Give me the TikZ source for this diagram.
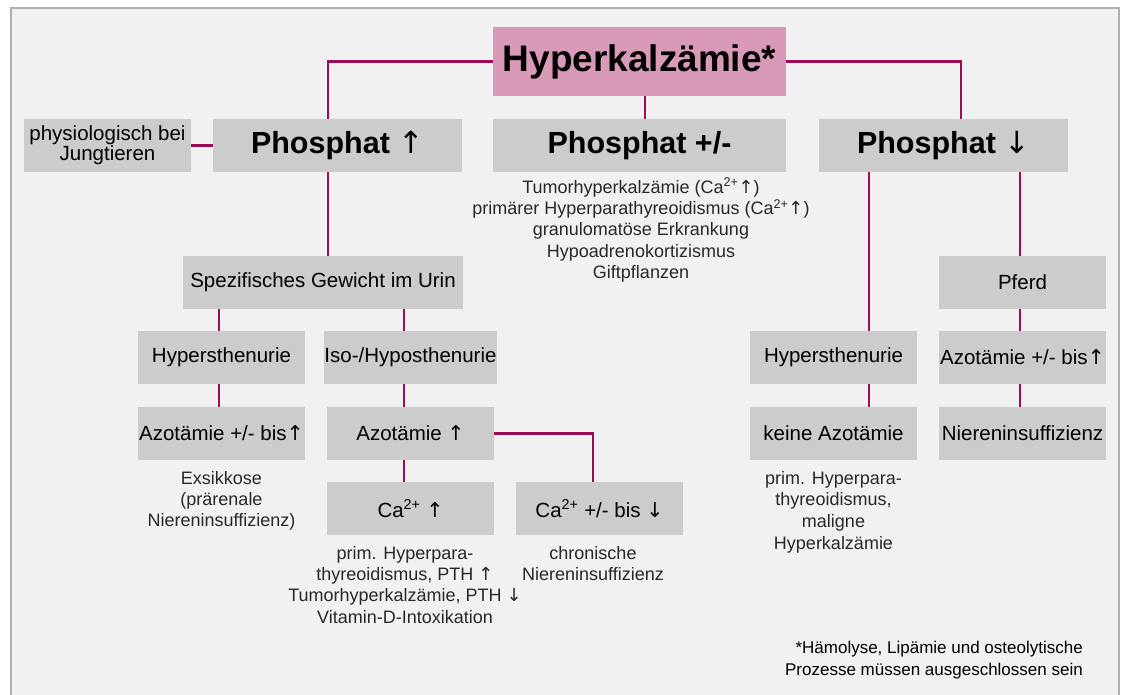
\documentclass[tikz,border=0pt]{standalone}
\usepackage{fontspec}
\setmainfont{Liberation Sans}
\newfontfamily\arrowfont{DejaVu Sans}
\usetikzlibrary{backgrounds}
\pgfdeclarelayer{bottom}
\pgfsetlayers{bottom,background,main}
\definecolor{lnk}{RGB}{158,12,86}
\definecolor{boxg}{RGB}{204,204,204}
\definecolor{pinkb}{RGB}{217,153,185}
\definecolor{bgc}{RGB}{241,241,241}
\definecolor{frm}{RGB}{176,176,176}
\definecolor{notec}{RGB}{40,40,40}
\newcommand{\upar}{{\arrowfont\mdseries ↑}}
\newcommand{\dnar}{{\arrowfont\mdseries ↓}}
\tikzset{
  gbox/.style={fill=boxg, draw=none, inner sep=0pt, align=center, font=\fontsize{20.5}{23}\selectfont},
  hbox/.style={gbox, font=\bfseries\fontsize{30.5}{33}\selectfont},
  note/.style={inner sep=0pt, align=center, text=notec, font=\fontsize{18}{21.3}\selectfont},
  link/.style={draw=lnk, line width=2.6pt}
}
\begin{document}
\begin{tikzpicture}[x=1pt,y=-1pt]
\useasboundingbox (0,0) rectangle (1125,695);
\begin{pgfonlayer}{bottom}
\fill[white] (0,0) rectangle (1125,695);
\draw[frm, line width=2.5pt, fill=bgc] (11,720) -- (11,8) -- (1119,8) -- (1119,720);
\end{pgfonlayer}
% boxes
\node[gbox, fill=pinkb, font=\bfseries\fontsize{37}{40}\selectfont, minimum width=293, minimum height=69] (hyp) at (639.5,61.5) {Hyperkalzämie*};
\node[gbox, minimum width=167, minimum height=53] (phys) at (107.5,145.5) {physiologisch bei\\[-3pt]Jungtieren};
\node[hbox, minimum width=249, minimum height=53] (pup) at (337.5,145.5) {Phosphat \upar};
\node[hbox, minimum width=293, minimum height=53] (ppm) at (639.5,145.5) {Phosphat +/-};
\node[hbox, minimum width=249, minimum height=53] (pdown) at (943.5,145.5) {Phosphat \dnar};
\node[gbox, minimum width=280, minimum height=53] (spez) at (323,282.5) {Spezifisches Gewicht im Urin};
\node[gbox, minimum width=167, minimum height=53] (hyL) at (221.5,357.5) {Hypersthenurie};
\node[gbox, minimum width=167, minimum height=53] (iso) at (410.5,357.5) {Iso-/Hyposthenurie};
\node[gbox, minimum width=167, minimum height=53] (azL) at (221.5,433.5) {Azotämie +/- bis\upar};
\node[gbox, minimum width=167, minimum height=53] (azM) at (410.5,433.5) {Azotämie \upar};
\node[gbox, minimum width=167, minimum height=53] (ca1) at (410.5,508.5) {Ca\textsuperscript{2+} \upar};
\node[gbox, minimum width=167, minimum height=53] (ca2) at (599.5,508.5) {Ca\textsuperscript{2+} +/- bis \dnar};
\node[gbox, minimum width=167, minimum height=53] (pferd) at (1022.5,282.5) {Pferd};
\node[gbox, minimum width=167, minimum height=53] (hyR) at (833.5,357.5) {Hypersthenurie};
\node[gbox, minimum width=167, minimum height=53] (azR) at (1022.5,357.5) {Azotämie +/- bis\upar};
\node[gbox, minimum width=167, minimum height=53] (keine) at (833.5,433.5) {keine Azotämie};
\node[gbox, minimum width=167, minimum height=53] (nier) at (1022.5,433.5) {Niereninsuffizienz};
% notes
\node[note, anchor=north] (n1) at (641,178) {Tumorhyperkalzämie (Ca\textsuperscript{2+}\upar)\\primärer Hyperparathyreoidismus (Ca\textsuperscript{2+}\upar)\\granulomatöse Erkrankung\\Hypoadrenokortizismus\\Giftpflanzen};
\node[note, anchor=north] (n2) at (221.5,471) {Exsikkose\\(prärenale\\Niereninsuffizienz)};
\node[note, anchor=north] (n3) at (405,546) {prim. Hyperpara-\\thyreoidismus, PTH \upar\\Tumorhyperkalzämie, PTH \dnar\\Vitamin-D-Intoxikation};
\node[note, anchor=north] (n4) at (593,546) {chronische\\Niereninsuffizienz};
\node[note, anchor=north, font=\fontsize{18}{21.6}\selectfont] (n5) at (833.5,471) {prim. Hyperpara-\\thyreoidismus,\\maligne\\Hyperkalzämie};
\node[inner sep=0pt, align=right, anchor=north east, font=\fontsize{17}{21.5}\selectfont] (fn) at (1083,641) {*Hämolyse, Lipämie und osteolytische\\Prozesse müssen ausgeschlossen sein};
% connectors
\coordinate (xa) at (328,0);
\coordinate (xb) at (961,0);
\coordinate (xc) at (645,0);
\coordinate (xd) at (219,0);
\coordinate (xe) at (404,0);
\coordinate (xf) at (869,0);
\coordinate (xg) at (1020,0);
\coordinate (xh) at (593,0);
\begin{scope}[on background layer]
\draw[link] (hyp.west) -| (xa |- pup.north);
\draw[link] (xa |- pup.south) -- (xa |- spez.north);
\draw[link] (hyp.east) -| (xb |- pdown.north);
\draw[link] (xc |- hyp.south) -- (xc |- ppm.north);
\draw[link] (phys.east) -- (pup.west);
\draw[link] (xd |- spez.south) -- (xd |- hyL.north);
\draw[link] (xd |- hyL.south) -- (xd |- azL.north);
\draw[link] (xe |- spez.south) -- (xe |- iso.north);
\draw[link] (xe |- iso.south) -- (xe |- azM.north);
\draw[link] (xe |- azM.south) -- (xe |- ca1.north);
\draw[link] (azM.east) -| (xh |- ca2.north);
\draw[link] (xf |- pdown.south) -- (xf |- hyR.north);
\draw[link] (xf |- hyR.south) -- (xf |- keine.north);
\draw[link] (xg |- pdown.south) -- (xg |- pferd.north);
\draw[link] (xg |- pferd.south) -- (xg |- azR.north);
\draw[link] (xg |- azR.south) -- (xg |- nier.north);
\end{scope}
\end{tikzpicture}
\end{document}
